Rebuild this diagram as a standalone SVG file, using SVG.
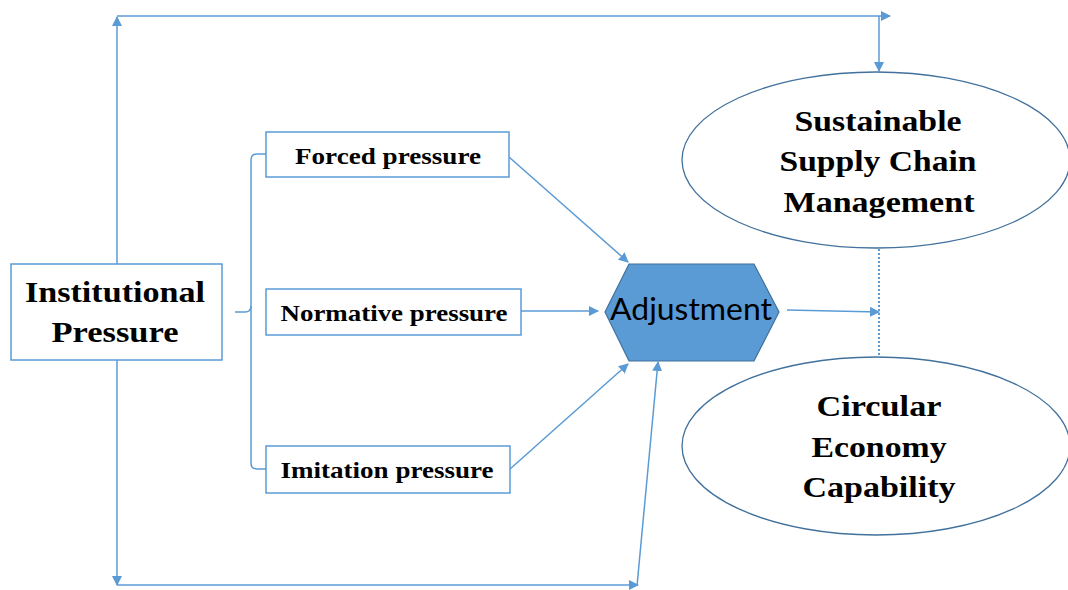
<svg xmlns="http://www.w3.org/2000/svg" width="1068" height="590" viewBox="0 0 1068 590">
<style>
.c{fill:none;stroke:#5B9BD5;stroke-width:1.5}
.box{fill:#fff;stroke:#5B9BD5;stroke-width:1.5}
.ell{fill:#fff;stroke:#41719C;stroke-width:1.3}
.t{font-family:"Liberation Serif","Times New Roman",serif;font-weight:bold;fill:#000;text-anchor:middle}
</style>
<defs>
<marker id="ah" viewBox="0 0 10 10" refX="9" refY="5" markerWidth="10" markerHeight="10" markerUnits="userSpaceOnUse" orient="auto">
<path d="M0,0 L10,5 L0,10 z" fill="#5B9BD5"/>
</marker>
</defs>
<rect width="1068" height="590" fill="#fff"/>
<g id="connectors">
<path class="c" d="M117,264 V17" marker-end="url(#ah)"/>
<path class="c" d="M117,16 H890" marker-end="url(#ah)"/>
<path class="c" d="M879,16 V71" marker-end="url(#ah)"/>
<path class="c" d="M117,360 V585" marker-end="url(#ah)"/>
<path class="c" d="M117,585 H638" marker-end="url(#ah)"/>
<path class="c" d="M637,586 L658,362" marker-end="url(#ah)"/>
<path class="c" d="M235,312 H245 Q251,312 251,306 V160 Q251,154 257,154 H266"/>
<path class="c" d="M251,306 V463 Q251,469 257,469 H266"/>
<path class="c" d="M509,157 L628,262" marker-end="url(#ah)"/>
<path class="c" d="M521,311 L598,311" marker-end="url(#ah)"/>
<path class="c" d="M510,469 L628,364" marker-end="url(#ah)"/>
<path class="c" d="M787,310 L879,312" marker-end="url(#ah)"/>
<path d="M879,249 V356" fill="none" stroke="#5B9BD5" stroke-width="2" stroke-dasharray="2,2"/>
</g>
<g id="institutional">
<rect class="box" x="11" y="264" width="211" height="96"/>
<text class="t" x="115" y="302" font-size="30" textLength="180" lengthAdjust="spacingAndGlyphs">Institutional</text>
<text class="t" x="115" y="342" font-size="30" textLength="127" lengthAdjust="spacingAndGlyphs">Pressure</text>
</g>
<g id="forced">
<rect class="box" x="266" y="132" width="243" height="45"/>
<text class="t" x="388" y="164" font-size="24" textLength="186" lengthAdjust="spacingAndGlyphs">Forced pressure</text>
</g>
<g id="normative">
<rect class="box" x="266" y="289" width="255" height="46"/>
<text class="t" x="394" y="321" font-size="24" textLength="227" lengthAdjust="spacingAndGlyphs">Normative pressure</text>
</g>
<g id="imitation">
<rect class="box" x="266" y="446" width="244" height="47"/>
<text class="t" x="387" y="478" font-size="24" textLength="213" lengthAdjust="spacingAndGlyphs">Imitation pressure</text>
</g>
<g id="adjustment">
<polygon points="629,264 754,264 779,312 754,361 629,361 605,312" fill="#5B9BD5" stroke="#41719C" stroke-width="1.2"/>
<text x="691" y="320" font-family="Lato,'Open Sans',sans-serif" font-size="30" fill="#000" text-anchor="middle" textLength="162" lengthAdjust="spacingAndGlyphs">Adjustment</text>
</g>
<g id="sscm">
<ellipse class="ell" cx="876" cy="160" rx="194" ry="88"/>
<text class="t" x="878" y="131" font-size="30" textLength="167" lengthAdjust="spacingAndGlyphs">Sustainable</text>
<text class="t" x="878" y="171" font-size="30" textLength="197" lengthAdjust="spacingAndGlyphs">Supply Chain</text>
<text class="t" x="879" y="212" font-size="30" textLength="191" lengthAdjust="spacingAndGlyphs">Management</text>
</g>
<g id="cec">
<ellipse class="ell" cx="876" cy="446" rx="194" ry="89"/>
<text class="t" x="879" y="416" font-size="30" textLength="125" lengthAdjust="spacingAndGlyphs">Circular</text>
<text class="t" x="879" y="457" font-size="30" textLength="135" lengthAdjust="spacingAndGlyphs">Economy</text>
<text class="t" x="879" y="497" font-size="30" textLength="153" lengthAdjust="spacingAndGlyphs">Capability</text>
</g>
</svg>
